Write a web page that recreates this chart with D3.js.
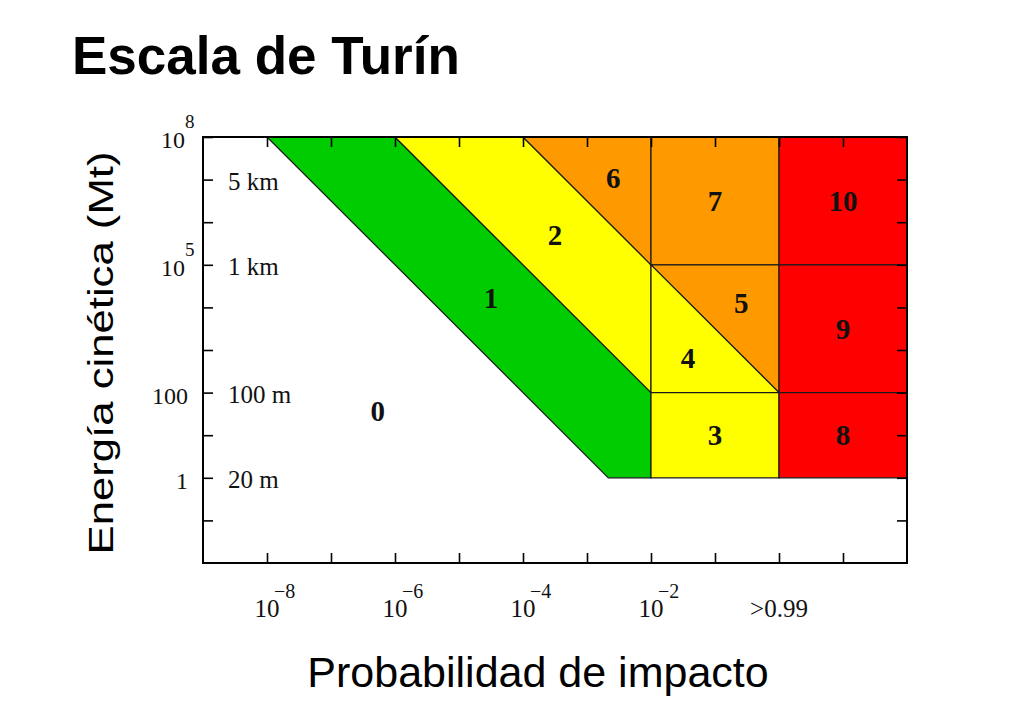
<!DOCTYPE html>
<html>
<head>
<meta charset="utf-8">
<script src="https://cdn.jsdelivr.net/npm/d3@7"></script>
<style>
  html, body { margin: 0; padding: 0; background: #fff; }
  svg { display: block; }
</style>
</head>
<body>
<svg id="chart" width="1024" height="720"></svg>
<script>
// ---- Data (x = log10 probability of impact, y = log10 kinetic energy in Mt) ----
const chartTitle = "Escala de Turín";
const xTitle = "Probabilidad de impacto";
const yTitle = "Energía cinética (Mt)";

// Turin scale regions: level, colour class, polygon vertices [log10 P, log10 E]
const regionLevels = [1, 2, 6, 7, 5, 4, 3, 10, 9, 8];
const regionClass  = ["verde", "amarillo", "naranja", "naranja", "naranja", "amarillo", "amarillo", "rojo", "rojo", "rojo"];
const regionShapes = [
  [[-8, 8], [-6, 8], [-2, 2], [-2, 0], [-8 + 16 / 3, 0]],
  [[-6, 8], [-4, 8], [-2, 5], [-2, 2]],
  [[-4, 8], [-2, 8], [-2, 5]],
  [[-2, 8], [0, 8], [0, 5], [-2, 5]],
  [[-2, 5], [0, 5], [0, 2]],
  [[-2, 5], [0, 2], [-2, 2]],
  [[-2, 2], [0, 2], [0, 0], [-2, 0]],
  [[0, 8], [2, 8], [2, 5], [0, 5]],
  [[0, 5], [2, 5], [2, 2], [0, 2]],
  [[0, 2], [2, 2], [2, 0], [0, 0]]
];

// Level number labels (data coordinates)
const levelLabels = ["0", "1", "2", "3", "4", "5", "6", "7", "8", "9", "10"];
const levelLabelX = [-6.27, -4.5, -3.5, -1, -1.42, -0.59, -2.59, -1, 1, 1, 1];
const levelLabelY = [1.57, 4.22, 5.7, 1, 2.81, 4.1, 7.05, 6.5, 1, 3.5, 6.5];

// Axes
const xDomain = [-9, 2];
const yDomain = [-2, 8];
const xTicks = [-8, -7, -6, -5, -4, -3, -2, -1, 0, 1];
const yTicks = [-1, 0, 1, 2, 3, 4, 5, 6, 7, 8];
const xLabelValues = [-8, -6, -4, -2, 0];
const xLabelBase   = ["10", "10", "10", "10", ">0.99"];
const xLabelExp    = ["\u22128", "\u22126", "\u22124", "\u22122", ""];
const yLabelValues = [8, 5, 2, 0];
const yLabelBase   = ["10", "10", "100", "1"];
const yLabelExp    = ["8", "5", "", ""];
const sizeLabels   = ["5 km", "1 km", "100 m", "20 m"];
const sizeLabelValues = [7, 5, 2, 0];

// ---- Layout ----
const svg = d3.select("#chart");
const plot = { left: 203, right: 907, top: 137, bottom: 563 };
const x = d3.scaleLinear().domain(xDomain).range([plot.left, plot.right]);
const y = d3.scaleLinear().domain(yDomain).range([plot.bottom, plot.top]);
const color = d3.scaleOrdinal()
  .domain(["verde", "amarillo", "naranja", "rojo"])
  .range(["#00cc00", "#ffff00", "#ff9900", "#ff0000"]);
const serif = "'Liberation Serif', 'DejaVu Serif', serif";
const sans = "'Liberation Sans', Arial, sans-serif";

// Title
svg.append("text")
  .attr("x", 72).attr("y", 74)
  .attr("font-family", sans).attr("font-weight", "bold").attr("font-size", 53)
  .attr("fill", "#000")
  .text(chartTitle);

// Regions
const line = d3.line().x(d => x(d[0])).y(d => y(d[1])).curve(d3.curveLinearClosed);
svg.append("g").selectAll("path")
  .data(regionShapes)
  .join("path")
  .attr("d", d => line(d))
  .attr("fill", (d, i) => color(regionClass[i]))
  .attr("stroke", "#1a1a1a")
  .attr("stroke-width", 1.2)
  .attr("stroke-linejoin", "miter");

// Level numbers
svg.append("g").selectAll("text")
  .data(levelLabels)
  .join("text")
  .attr("x", (d, i) => x(levelLabelX[i]))
  .attr("y", (d, i) => y(levelLabelY[i]))
  .attr("dy", "0.35em")
  .attr("text-anchor", "middle")
  .attr("font-family", serif).attr("font-weight", "bold").attr("font-size", 29)
  .attr("fill", "#111")
  .text(d => d);

// Axes (ticks pointing inward on all four sides)
const tickLen = 10;
function styleAxis(g) {
  g.selectAll(".domain").remove();
  g.selectAll(".tick line").attr("stroke", "#000").attr("stroke-width", 1.6);
  g.selectAll(".tick text").remove();
}
svg.append("g").attr("transform", `translate(0,${plot.bottom})`)
  .call(d3.axisBottom(x).tickValues(xTicks).tickSize(-tickLen).tickFormat(""))
  .call(styleAxis);
svg.append("g").attr("transform", `translate(0,${plot.top})`)
  .call(d3.axisTop(x).tickValues(xTicks).tickSize(-tickLen).tickFormat(""))
  .call(styleAxis);
svg.append("g").attr("transform", `translate(${plot.left},0)`)
  .call(d3.axisLeft(y).tickValues(yTicks).tickSize(-tickLen).tickFormat(""))
  .call(styleAxis);
svg.append("g").attr("transform", `translate(${plot.right},0)`)
  .call(d3.axisRight(y).tickValues(yTicks).tickSize(-tickLen).tickFormat(""))
  .call(styleAxis);

// Frame
svg.append("rect")
  .attr("x", plot.left).attr("y", plot.top)
  .attr("width", plot.right - plot.left).attr("height", plot.bottom - plot.top)
  .attr("fill", "none").attr("stroke", "#000").attr("stroke-width", 2);

// X tick labels
const xl = svg.append("g").attr("font-family", serif).attr("fill", "#111");
xLabelValues.forEach((v, i) => {
  xl.append("text")
    .attr("x", x(v)).attr("y", 617)
    .attr("text-anchor", "middle").attr("font-size", 25)
    .text(xLabelBase[i]);
  if (xLabelExp[i]) {
    xl.append("text")
      .attr("x", x(v) + 7).attr("y", 598)
      .attr("text-anchor", "start").attr("font-size", 20)
      .text(xLabelExp[i]);
  }
});

// Y tick labels
const yl = svg.append("g").attr("font-family", serif).attr("fill", "#111");
yLabelValues.forEach((v, i) => {
  const hasExp = yLabelExp[i] !== "";
  yl.append("text")
    .attr("x", hasExp ? 185 : 188).attr("y", y(v) + 11)
    .attr("text-anchor", "end").attr("font-size", 24)
    .text(yLabelBase[i]);
  if (hasExp) {
    yl.append("text")
      .attr("x", 185).attr("y", y(v) - 9)
      .attr("text-anchor", "start").attr("font-size", 19)
      .text(yLabelExp[i]);
  }
});

// Impactor size labels inside the plot
svg.append("g").selectAll("text")
  .data(sizeLabels)
  .join("text")
  .attr("x", 228)
  .attr("y", (d, i) => y(sizeLabelValues[i]) + 10)
  .attr("font-family", serif).attr("font-size", 25).attr("fill", "#111")
  .text(d => d);

// Axis titles
svg.append("text")
  .attr("x", 538).attr("y", 687)
  .attr("text-anchor", "middle")
  .attr("font-family", sans).attr("font-size", 43).attr("fill", "#000")
  .text(xTitle);

svg.append("text")
  .attr("transform", "translate(113,353) rotate(-90)")
  .attr("text-anchor", "middle")
  .attr("font-family", sans).attr("font-size", 35).attr("fill", "#000")
  .attr("textLength", 403).attr("lengthAdjust", "spacingAndGlyphs")
  .text(yTitle);
</script>
</body>
</html>
